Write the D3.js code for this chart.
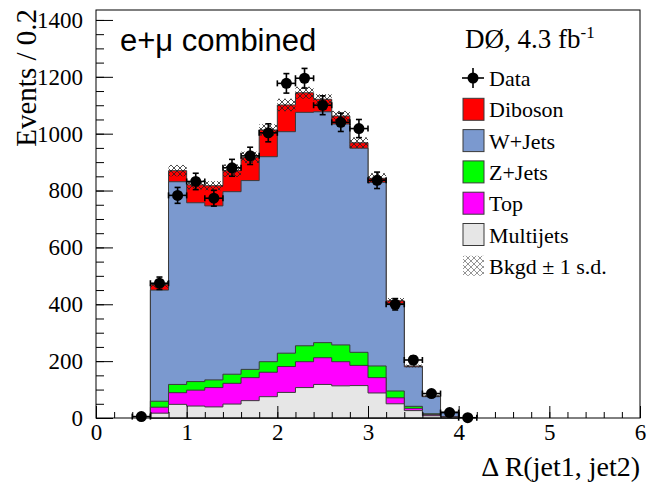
<!DOCTYPE html>
<html>
<head>
<meta charset="utf-8">
<script src="https://cdn.jsdelivr.net/npm/d3@7"></script>
<style>
  html, body { margin: 0; padding: 0; background: #fff; }
  svg { display: block; }
  .serif { font-family: "Liberation Serif", "Times New Roman", serif; }
</style>
</head>
<body>
<svg id="chart" width="648" height="484"></svg>
<script>
// Bin low edges of the simulated backgrounds (width 0.2 in ΔR)
const binLow = [0.6, 0.8, 1.0, 1.2, 1.4, 1.6, 1.8, 2.0, 2.2, 2.4, 2.6, 2.8, 3.0, 3.2, 3.4, 3.6, 3.8];
const binWidth = 0.2;

// Background contributions per bin (events / 0.2)
const multijets = [17, 48, 42, 39, 49, 61, 75, 90, 107, 118, 113, 114, 88, 50, 26, 8, 3];
const topQuark  = [21, 41, 56, 68, 73, 81, 86, 91, 91, 94, 85, 71, 54, 21, 8, 4, 1];
const zJets     = [21, 29, 30, 27, 32, 29, 37, 47, 56, 53, 59, 46, 41, 24, 7, 3, 1];
const wJets     = [391, 713, 629, 612, 642, 664, 721, 779, 821, 812, 777, 718, 646, 308, 139, 60, 15];
const diboson   = [20, 39, 63, 71, 74, 82, 94, 94, 69, 44, 28, 19, 14, 9, 3, 2, 1];
// Total background uncertainty (±1 s.d.)
const bkgdErr   = [12, 20, 16, 16, 22, 20, 20, 22, 21, 18, 18, 19, 18, 10, 5, 3, 1];

// Observed data at bin centres
const dataX = [0.5, 0.7, 0.9, 1.1, 1.3, 1.5, 1.7, 1.9, 2.1, 2.3, 2.5, 2.7, 2.9, 3.1, 3.3, 3.5, 3.7, 3.9, 4.1];
const dataY = [5, 474, 783, 832, 773, 880, 922, 1003, 1177, 1195, 1100, 1040, 1018, 836, 400, 204, 86, 19, 1];

// Axis ticks
const xTicks = [0, 1, 2, 3, 4, 5, 6];
const yTicks = [0, 200, 400, 600, 800, 1000, 1200, 1400];

// Stack order, bottom to top, and legend entries
const layerKeys   = ["Multijets", "Top", "Z+Jets", "W+Jets", "Diboson"];
const layerColors = ["#e6e6e6", "#ff00ff", "#00ff00", "#7b99cf", "#ff0000"];
const legendLabels = ["Data", "Diboson", "W+Jets", "Z+Jets", "Top", "Multijets", "Bkgd \u00b1 1 s.d."];

const svg = d3.select("#chart");
const serif = "'Liberation Serif', 'Times New Roman', serif";
const sans = "'Liberation Sans', Arial, sans-serif";

const x = d3.scaleLinear().domain([0, 6]).range([96, 640]);
const y = d3.scaleLinear().domain([0, 1435]).range([418, 10]);

// Hatch pattern for the background uncertainty band
const defs = svg.append("defs");
const pat = defs.append("pattern")
  .attr("id", "hatch").attr("patternUnits", "userSpaceOnUse")
  .attr("width", 6).attr("height", 6);
pat.append("path").attr("d", "M0,0 L6,6 M6,0 L0,6")
  .attr("stroke", "#222").attr("stroke-width", 0.8).attr("fill", "none");

// Build the stacked table
const rows = binLow.map((lo, i) => ({
  lo, hi: lo + binWidth,
  "Multijets": multijets[i], "Top": topQuark[i], "Z+Jets": zJets[i],
  "W+Jets": wJets[i], "Diboson": diboson[i]
}));
const series = d3.stack().keys(layerKeys)(rows);

// Cumulative step outline from zero for each layer (drawn top layer first)
function stepPath(s) {
  const pts = [[x(rows[0].lo), y(0)]];
  s.forEach((d, i) => {
    pts.push([x(rows[i].lo), y(d[1])]);
    pts.push([x(rows[i].hi), y(d[1])]);
  });
  pts.push([x(rows[rows.length - 1].hi), y(0)]);
  return d3.line()(pts) + "Z";
}
const g = svg.append("g");
series.slice().reverse().forEach((s) => {
  const idx = layerKeys.indexOf(s.key);
  g.append("path")
    .attr("d", stepPath(s))
    .attr("fill", layerColors[idx])
    .attr("stroke", "#3a3a3a")
    .attr("stroke-width", 1);
});

// Uncertainty band around the total background
const total = series[series.length - 1];
g.selectAll("rect.err").data(rows).join("rect")
  .attr("class", "err")
  .attr("x", d => x(d.lo))
  .attr("width", d => x(d.hi) - x(d.lo))
  .attr("y", (d, i) => y(total[i][1] + bkgdErr[i]))
  .attr("height", (d, i) => y(total[i][1] - bkgdErr[i]) - y(total[i][1] + bkgdErr[i]))
  .attr("fill", "url(#hatch)");

// Data points with statistical error bars
const dg = svg.append("g").attr("stroke", "#000").attr("stroke-width", 1.6);
dataX.forEach((cx, i) => {
  const v = dataY[i], e = Math.sqrt(v);
  const px = x(cx), py = y(v);
  const xl = x(cx - binWidth / 2), xr = x(cx + binWidth / 2);
  const yt = y(v + e), yb = y(Math.max(0, v - e));
  dg.append("line").attr("x1", xl).attr("x2", xr).attr("y1", py).attr("y2", py);
  dg.append("line").attr("x1", xl).attr("x2", xl).attr("y1", py - 3).attr("y2", py + 3);
  dg.append("line").attr("x1", xr).attr("x2", xr).attr("y1", py - 3).attr("y2", py + 3);
  dg.append("line").attr("x1", px).attr("x2", px).attr("y1", yt).attr("y2", yb);
  dg.append("line").attr("x1", px - 3).attr("x2", px + 3).attr("y1", yt).attr("y2", yt);
  dg.append("line").attr("x1", px - 3).attr("x2", px + 3).attr("y1", yb).attr("y2", yb);
  dg.append("circle").attr("cx", px).attr("cy", py).attr("r", 5.5)
    .attr("fill", "#000").attr("stroke", "none");
});

// Frame
svg.append("rect").attr("x", 96).attr("y", 10).attr("width", 544).attr("height", 408)
  .attr("fill", "none").attr("stroke", "#000").attr("stroke-width", 1);

// Axes (ticks point inward)
const yMinor = d3.range(0, 1401, 50);
svg.append("g").attr("transform", "translate(96,0)")
  .call(d3.axisLeft(y).tickValues(yMinor).tickSize(-8).tickFormat(""))
  .call(a => a.select(".domain").remove());
svg.append("g").attr("transform", "translate(96,0)")
  .call(d3.axisLeft(y).tickValues(yTicks).tickSize(-17).tickPadding(13).tickFormat(d3.format("d")))
  .call(a => a.select(".domain").remove())
  .call(a => a.attr("font-family", null).attr("font-size", null))
  .call(a => a.selectAll("text").attr("class", "serif").style("font-size", "23px").attr("fill", "#000"));

const xMinor = d3.range(0, 30.5, 1).map(d => d * 0.2);
svg.append("g").attr("transform", "translate(0,418)")
  .call(d3.axisBottom(x).tickValues(xMinor).tickSize(-6).tickFormat(""))
  .call(a => a.select(".domain").remove());
svg.append("g").attr("transform", "translate(0,418)")
  .call(d3.axisBottom(x).tickValues(xTicks).tickSize(-12).tickPadding(6).tickFormat(d3.format("d")))
  .call(a => a.select(".domain").remove())
  .call(a => a.attr("font-family", null).attr("font-size", null))
  .call(a => a.selectAll("text").attr("class", "serif").style("font-size", "23px").attr("fill", "#000"));
svg.selectAll(".tick line").attr("stroke", "#000");

// Axis titles
svg.append("text")
  .attr("transform", "translate(36,9) rotate(-90)")
  .attr("text-anchor", "end")
  .attr("font-family", serif).attr("font-size", 29)
  .text("Events / 0.2");
svg.append("text")
  .attr("x", 640).attr("y", 476).attr("text-anchor", "end")
  .attr("font-family", serif).attr("font-size", 28)
  .text("\u0394 R(jet1, jet2)");

// Annotations
svg.append("text").attr("x", 120).attr("y", 51)
  .attr("font-family", sans).attr("font-size", 31)
  .text("e+\u03bc combined");
const lum = svg.append("text").attr("x", 465).attr("y", 48)
  .attr("font-family", serif).attr("font-size", 27);
lum.append("tspan").text("D\u00d8, 4.3 fb");
lum.append("tspan").attr("dy", -10).attr("font-size", 17).text("-1");

// Legend
const lg = svg.append("g");
const rowY = i => 78 + i * 31.3;
legendLabels.forEach((lab, i) => {
  const cy = rowY(i);
  if (i === 0) {
    lg.append("line").attr("x1", 462).attr("x2", 484).attr("y1", cy).attr("y2", cy)
      .attr("stroke", "#000").attr("stroke-width", 1.6);
    lg.append("line").attr("x1", 473).attr("x2", 473).attr("y1", cy - 10).attr("y2", cy + 10)
      .attr("stroke", "#000").attr("stroke-width", 1.6);
    lg.append("circle").attr("cx", 473).attr("cy", cy).attr("r", 5.5).attr("fill", "#000");
  } else if (i === legendLabels.length - 1) {
    lg.append("rect").attr("x", 463).attr("y", cy - 10).attr("width", 21).attr("height", 20)
      .attr("fill", "url(#hatch)").attr("opacity", 0.6);
  } else {
    const idx = layerKeys.indexOf(lab);
    lg.append("rect").attr("x", 463).attr("y", cy - 11).attr("width", 21).attr("height", 22)
      .attr("fill", layerColors[idx]).attr("stroke", "#3a3a3a").attr("stroke-width", 1);
  }
  lg.append("text").attr("x", 489).attr("y", cy + 8)
    .attr("font-family", serif).attr("font-size", 22)
    .text(lab);
});
</script>
</body>
</html>
